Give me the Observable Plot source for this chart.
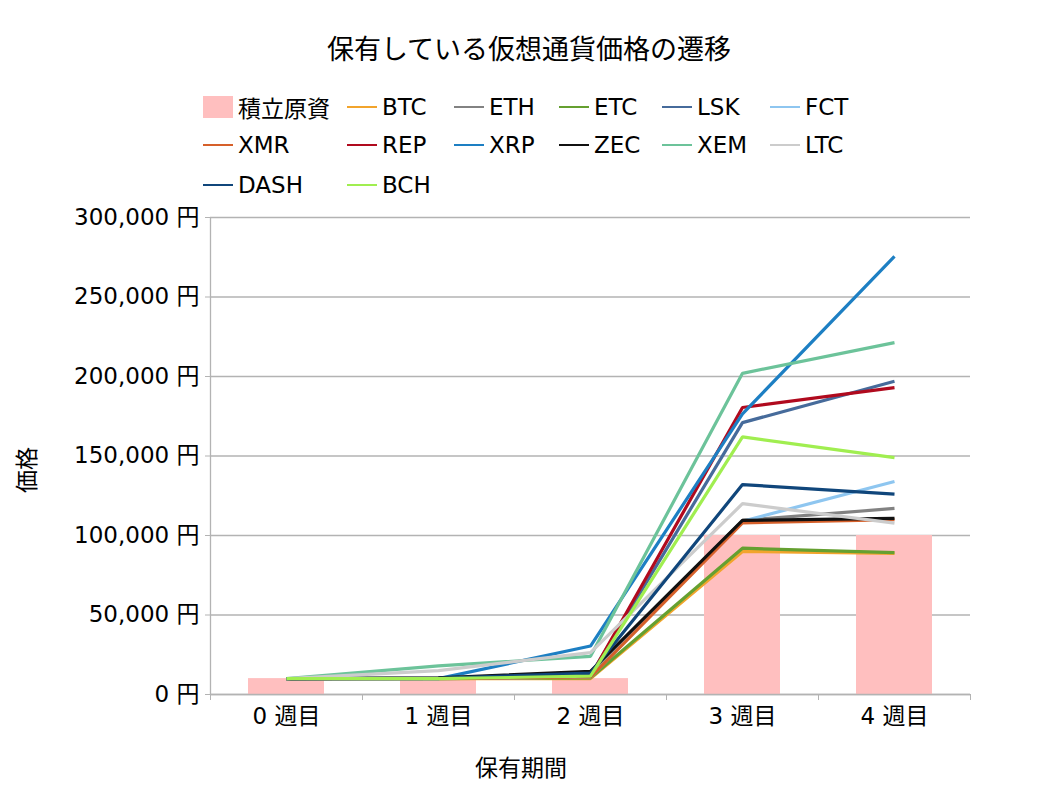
<!DOCTYPE html>
<html>
<head>
<meta charset="utf-8">
<script src="https://cdn.jsdelivr.net/npm/d3@7"></script>
<script src="https://cdn.jsdelivr.net/npm/@observablehq/plot@0.6"></script>
<style>
  html, body { margin: 0; padding: 0; background: #fff; }
  body { width: 1058px; height: 794px; position: relative; overflow: hidden;
         font-family: "DejaVu Sans", "Noto Sans CJK JP", sans-serif; color: #000; }
  #title { position: absolute; left: 0; width: 1058px; top: 30px; text-align: center;
           font-family: "Noto Sans CJK JP", sans-serif; font-size: 27px; line-height: 36px; }
  #legend { position: absolute; left: 0; top: 0; width: 1058px; height: 210px; }
  .item { position: absolute; display: flex; align-items: center; font-size: 23px; height: 30px; white-space: nowrap; }
  .sw { width: 30px; margin-right: 5px; }
  #chart { position: absolute; left: 0; top: 205px; }
  .axt { position: absolute; font-family: "Noto Sans CJK JP", sans-serif; font-size: 23px; line-height: 30px; }
</style>
</head>
<body>
<div id="title"></div>
<div id="legend"></div>
<div id="chart"></div>
<div class="axt" id="xlabel" style="left:0;width:1042px;text-align:center;top:751px;"></div>
<div class="axt" id="ylabel" style="left:25px;top:470px;transform:translate(-50%,-50%) rotate(-90deg);"></div>
<script>
// ---- data ----
const title = "保有している仮想通貨価格の遷移";
const xTitle = "保有期間";
const yTitle = "価格";
const weeks = ["0 週目", "1 週目", "2 週目", "3 週目", "4 週目"];
const yTicks = [0, 50000, 100000, 150000, 200000, 250000, 300000];
const principalName = "積立原資";
const principal = [10000, 10000, 10000, 100000, 100000];

const seriesNames = ["BTC", "ETH", "ETC", "LSK", "FCT", "XMR", "REP", "XRP", "ZEC", "XEM", "LTC", "DASH", "BCH"];
const BTC  = [10000, 10000, 10000,  90000,  88800];
const ETH  = [10000, 10200, 11500, 109500, 117000];
const ETC  = [10000, 10000, 10500,  92000,  89200];
const LSK  = [10000, 10300, 12000, 171000, 197000];
const FCT  = [10000, 10000, 11000, 109000, 134000];
const XMR  = [10000, 10000, 11000, 108000, 110000];
const REP  = [10000, 10200, 11500, 180500, 193000];
const XRP  = [10000, 10000, 30500, 176500, 275500];
const ZEC  = [10000, 10500, 14500, 109500, 110800];
const XEM  = [10000, 18000, 24000, 202000, 221300];
const LTC  = [10000, 15000, 26300, 120000, 107800];
const DASH = [10000, 10200, 13500, 132000, 126000];
const BCH  = [10000, 10000, 11500, 162000, 149000];
const seriesValues = [BTC, ETH, ETC, LSK, FCT, XMR, REP, XRP, ZEC, XEM, LTC, DASH, BCH];

const barColor = "#ffbfbf";
const colors = ["#f2a42c", "#828282", "#65a030", "#466b9b", "#8ec6f0", "#d6602a", "#b00a1e",
                "#1d7fc3", "#111111", "#6cc39a", "#cccccc", "#10467b", "#a0ee50"];

// ---- title & legend ----
document.getElementById("title").textContent = title;
document.getElementById("xlabel").textContent = xTitle;
document.getElementById("ylabel").textContent = yTitle;

const legendItems = [{name: principalName, color: barColor, bar: true}]
  .concat(seriesNames.map((n, i) => ({name: n, color: colors[i], bar: false})));
const colX = [203, 347, 454, 559, 662, 770];
const rowY = [92, 130, 170];
const leg = document.getElementById("legend");
legendItems.forEach((it, k) => {
  const r = Math.floor(k / 6), c = k % 6;
  const d = document.createElement("div");
  d.className = "item";
  d.style.left = colX[c] + "px";
  d.style.top = rowY[r] + "px";
  const sw = document.createElement("span");
  sw.className = "sw";
  sw.style.height = it.bar ? "22px" : "2.5px";
  sw.style.background = it.color;
  const t = document.createElement("span");
  t.textContent = it.name;
  d.appendChild(sw); d.appendChild(t);
  leg.appendChild(d);
});

// ---- chart ----
const bars = weeks.map((w, i) => ({i, week: w, value: principal[i]}));
const lines = [];
seriesNames.forEach((n, s) => seriesValues[s].forEach((v, i) => lines.push({name: n, i, value: v})));

const boundaries = d3.range(-0.5, weeks.length, 1);

const chart = Plot.plot({
  width: 1058,
  height: 589,
  marginTop: 12,
  marginBottom: 100,
  marginLeft: 210,
  marginRight: 88,
  style: {fontFamily: '"DejaVu Sans", "Noto Sans CJK JP", sans-serif', fontSize: "23px", color: "#000", background: "#fff"},
  x: {type: "linear", domain: [-0.5, weeks.length - 0.5]},
  y: {domain: [0, 300000]},
  color: {domain: seriesNames, range: colors},
  marks: [
    Plot.gridY(yTicks, {stroke: "#b3b3b3", strokeOpacity: 1, strokeWidth: 1.3}),
    Plot.rectY(bars, {x1: d => d.i - 0.25, x2: d => d.i + 0.25, y1: 0, y2: "value", fill: barColor}),
    Plot.ruleX([-0.5], {stroke: "#b3b3b3", strokeWidth: 1.3}),
    Plot.ruleY([0], {stroke: "#b3b3b3", strokeWidth: 1.3}),
    Plot.axisY(yTicks, {tickSize: 5, tickPadding: 6, stroke: "#b3b3b3", fill: "#000",
      tickFormat: d => d3.format(",")(d) + " 円", label: null}),
    Plot.axisX(boundaries, {tickSize: 6, tickFormat: () => "", stroke: "#b3b3b3", label: null}),
    Plot.axisX(d3.range(weeks.length), {tickSize: 0, tickPadding: 13, tickFormat: i => weeks[i], fill: "#000", label: null}),
    Plot.line(lines, {x: "i", y: "value", z: "name", stroke: "name", strokeWidth: 3.2, strokeLinejoin: "miter", strokeLinecap: "butt"})
  ]
});
document.getElementById("chart").appendChild(chart);
</script>
</body>
</html>
